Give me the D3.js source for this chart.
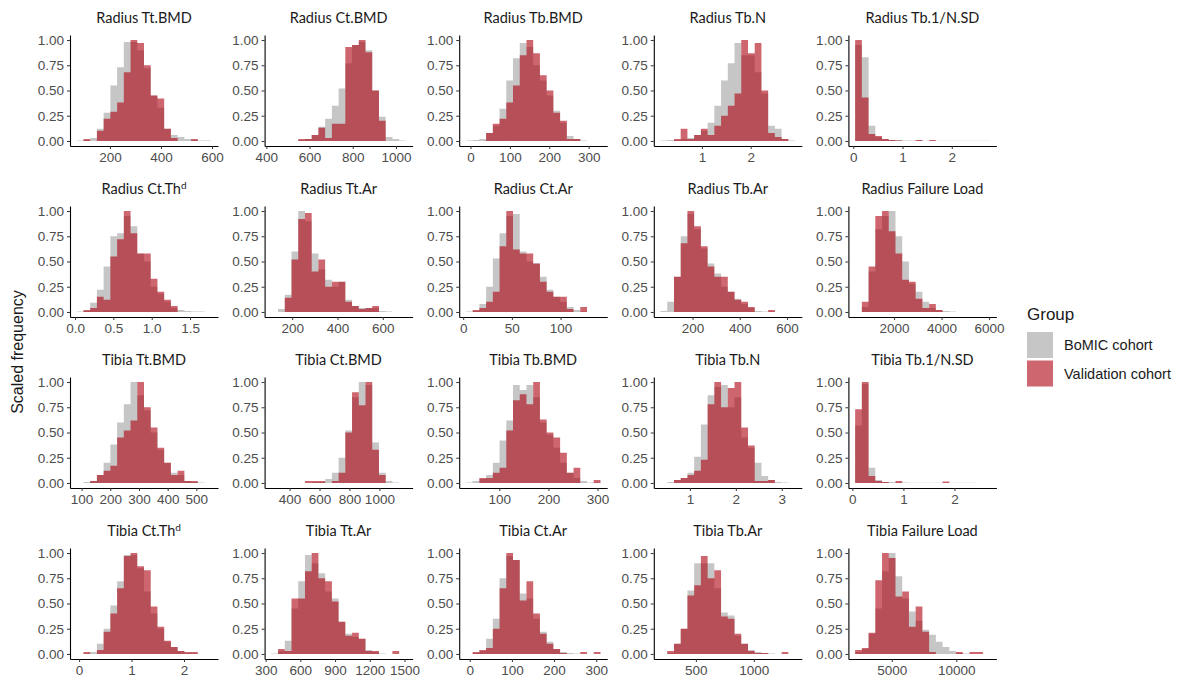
<!DOCTYPE html>
<html>
<head>
<meta charset="utf-8">
<script src="https://cdn.jsdelivr.net/npm/d3@7"></script>
<style>
  html, body { margin: 0; padding: 0; background: #fff; }
  svg { display: block; }
</style>
</head>
<body>
<svg id="chart" width="1184" height="684"></svg>
<script>
// ---------------- DATA ----------------
const panelTitles = [
  "Radius Tt.BMD", "Radius Ct.BMD", "Radius Tb.BMD", "Radius Tb.N", "Radius Tb.1/N.SD",
  "Radius Ct.Th^d", "Radius Tt.Ar", "Radius Ct.Ar", "Radius Tb.Ar", "Radius Failure Load",
  "Tibia Tt.BMD", "Tibia Ct.BMD", "Tibia Tb.BMD", "Tibia Tb.N", "Tibia Tb.1/N.SD",
  "Tibia Ct.Th^d", "Tibia Tt.Ar", "Tibia Ct.Ar", "Tibia Tb.Ar", "Tibia Failure Load"
];
const groups = ["BoMIC cohort", "Validation cohort"];

// first and last bin edge of each panel (20 equal bins)
const binStart = [70, 423, -11.6, 0.152, 0.037, 0.022, 108, 2.8, 64.5, 360,
                  83, 278, 32, 0.36, 0.054, -0.045, 349, -9, 195, 2163];
const binEnd   = [597, 1046, 330, 2.91, 2.77, 1.777, 702, 141, 634.5, 6024,
                  552, 1177, 306, 3.29, 2.69, 2.52, 1512, 310, 1356, 12582];

const xTicks = [
  [200, 400, 600], [400, 600, 800, 1000], [0, 100, 200, 300], [1, 2], [0, 1, 2],
  [0, 0.5, 1, 1.5], [200, 400, 600], [0, 50, 100], [200, 400, 600], [2000, 4000, 6000],
  [100, 200, 300, 400, 500], [400, 600, 800, 1000], [100, 200, 300], [1, 2, 3], [0, 1, 2],
  [0, 1, 2], [300, 600, 900, 1200, 1500], [0, 100, 200, 300], [500, 1000], [5000, 10000]
];
const yTicks = [0, 0.25, 0.5, 0.75, 1];

// scaled frequency per bin (BoMIC = grey, Validation = red)
const radiusTtBMD_BoMIC      = [0.005,0.01,0.03,0.12,0.28,0.55,0.73,0.98,0.98,0.9,0.72,0.45,0.33,0.12,0.06,0.04,0.02,0.01,0.005,0.005];
const radiusTtBMD_Valid      = [0,0.02,0,0.1,0.22,0.29,0.38,0.68,1.0,0.97,0.75,0.45,0.42,0.12,0.03,0,0,0.02,0,0];
const radiusCtBMD_BoMIC      = [0,0,0,0,0.01,0.02,0.06,0.14,0.22,0.35,0.52,0.77,0.95,0.98,0.9,0.5,0.24,0.04,0.02,0.005];
const radiusCtBMD_Valid      = [0,0,0,0,0.02,0.02,0.06,0.13,0.03,0.17,0.17,0.93,0.95,1.0,0.88,0.5,0.2,0,0,0];
const radiusTbBMD_BoMIC      = [0.005,0.01,0.02,0.08,0.15,0.32,0.6,0.82,0.97,0.93,0.75,0.6,0.45,0.3,0.18,0.05,0.02,0.005,0,0];
const radiusTbBMD_Valid      = [0,0,0,0.08,0.17,0.22,0.38,0.55,0.85,1.0,0.87,0.65,0.5,0.28,0.2,0.02,0.02,0,0,0];
const radiusTbN_BoMIC        = [0.005,0.01,0.01,0.02,0.03,0.06,0.1,0.18,0.35,0.6,0.77,0.97,0.85,0.85,0.68,0.47,0.15,0.12,0.02,0.005];
const radiusTbN_Valid        = [0,0,0.02,0.12,0.02,0.06,0.12,0.06,0.15,0.25,0.35,0.47,1.0,0.87,0.97,0.5,0.08,0.04,0.02,0];
const radiusTbSD_BoMIC       = [0.95,0.83,0.15,0.04,0.02,0.01,0.01,0.005,0.005,0.005,0.003,0.003,0.003,0.002,0.002,0.002,0.002,0.002,0.001,0.001];
const radiusTbSD_Valid       = [1.0,0.43,0.07,0.05,0.02,0.01,0.005,0,0,0.01,0,0.01,0,0,0,0,0,0,0,0];
const radiusCtTh_BoMIC       = [0.005,0.01,0.09,0.22,0.45,0.75,0.78,0.95,0.85,0.58,0.5,0.25,0.18,0.1,0.04,0.02,0.01,0.005,0.005,0];
const radiusCtTh_Valid       = [0,0.02,0.04,0.15,0.12,0.55,0.72,1.0,0.78,0.58,0.58,0.33,0.2,0.12,0.06,0,0,0,0,0];
const radiusTtAr_BoMIC       = [0,0.03,0.17,0.6,1.0,0.9,0.58,0.42,0.32,0.25,0.3,0.12,0.06,0.04,0.04,0.04,0.01,0.005,0,0];
const radiusTtAr_Valid       = [0,0,0.14,0.52,0.92,0.98,0.4,0.52,0.25,0.3,0.3,0.1,0.06,0.03,0.04,0.06,0,0,0,0];
const radiusCtAr_BoMIC       = [0.005,0.01,0.08,0.25,0.53,0.78,0.95,0.97,0.6,0.5,0.48,0.35,0.22,0.15,0.1,0.05,0.02,0.005,0,0];
const radiusCtAr_Valid       = [0,0.02,0.04,0.1,0.2,0.65,1.0,0.62,0.58,0.58,0.48,0.3,0.2,0.15,0.15,0.03,0,0.05,0,0];
const radiusTbAr_BoMIC       = [0.01,0.1,0.35,0.75,0.97,0.82,0.63,0.48,0.38,0.25,0.2,0.13,0.08,0.04,0.01,0.005,0.005,0,0,0];
const radiusTbAr_Valid       = [0,0,0.35,0.68,1.0,0.85,0.65,0.45,0.35,0.35,0.2,0.12,0.1,0.05,0,0,0.02,0,0,0];
const radiusFL_BoMIC         = [0,0.05,0.4,0.82,0.95,1.0,0.75,0.5,0.28,0.2,0.1,0.04,0.02,0.01,0.005,0,0,0,0,0];
const radiusFL_Valid         = [0,0.1,0.45,0.95,1.0,0.8,0.58,0.32,0.3,0.13,0.04,0.08,0.02,0,0,0,0,0,0,0];
const tibiaTtBMD_BoMIC       = [0,0.01,0.02,0.08,0.2,0.38,0.6,0.78,1.0,0.87,0.72,0.5,0.33,0.2,0.1,0.08,0.02,0.01,0.005,0];
const tibiaTtBMD_Valid       = [0,0,0.02,0.08,0.12,0.17,0.45,0.52,0.62,1.0,0.75,0.55,0.35,0.2,0.08,0.12,0.02,0.02,0,0];
const tibiaCtBMD_BoMIC       = [0,0,0,0,0,0,0.005,0.01,0.04,0.1,0.25,0.52,0.85,1.0,0.97,0.4,0.1,0.02,0.005,0];
const tibiaCtBMD_Valid       = [0,0,0,0,0,0.02,0.02,0.02,0,0.02,0.1,0.5,0.9,0.77,1.0,0.33,0.08,0,0,0];
const tibiaTbBMD_BoMIC       = [0.005,0.02,0.04,0.08,0.2,0.42,0.62,0.97,0.92,0.97,0.85,0.6,0.48,0.35,0.2,0.1,0.05,0.02,0.005,0.005];
const tibiaTbBMD_Valid       = [0,0,0.05,0.05,0.1,0.15,0.52,0.82,0.88,0.78,1.0,0.63,0.5,0.45,0.3,0.1,0.15,0,0,0.03];
const tibiaTbN_BoMIC         = [0,0.01,0.03,0.05,0.1,0.26,0.58,0.87,0.95,0.97,0.75,0.85,0.45,0.35,0.2,0.07,0.03,0.01,0.005,0];
const tibiaTbN_Valid         = [0,0,0.03,0.05,0.08,0.12,0.23,0.78,1.0,0.75,0.94,1.0,0.55,0.37,0.02,0.02,0.03,0,0,0];
const tibiaTbSD_BoMIC        = [0.57,0.98,0.15,0.03,0.01,0.01,0.005,0.005,0.003,0.003,0.002,0.002,0.002,0.002,0.002,0.001,0.001,0.001,0,0];
const tibiaTbSD_Valid        = [0.73,1.0,0.07,0.02,0.01,0,0.02,0,0,0,0,0,0,0.015,0,0,0,0,0,0];
const tibiaCtTh_BoMIC        = [0,0.005,0.02,0.1,0.25,0.48,0.72,0.98,0.98,0.85,0.62,0.4,0.25,0.12,0.07,0.03,0.01,0.005,0,0];
const tibiaCtTh_Valid        = [0,0.02,0,0.04,0.22,0.4,0.65,0.97,1.0,0.87,0.83,0.47,0.27,0.13,0.07,0.03,0.02,0.02,0,0];
const tibiaTtAr_BoMIC        = [0.005,0.03,0.13,0.45,0.72,0.98,0.9,0.8,0.62,0.55,0.32,0.2,0.17,0.15,0.04,0.02,0.005,0,0,0];
const tibiaTtAr_Valid        = [0,0.05,0.03,0.55,0.55,0.82,1.0,0.75,0.72,0.52,0.32,0.18,0.21,0.15,0.03,0.03,0,0,0.03,0];
const tibiaCtAr_BoMIC        = [0,0.01,0.03,0.15,0.35,0.75,0.97,0.93,0.6,0.55,0.35,0.22,0.12,0.05,0.02,0.01,0.005,0,0,0];
const tibiaCtAr_Valid        = [0,0.02,0.04,0.06,0.25,0.65,1.0,0.93,0.53,0.72,0.4,0.2,0.1,0.05,0.01,0,0,0.02,0,0.02];
const tibiaTbAr_BoMIC        = [0,0.01,0.1,0.25,0.63,0.9,0.9,0.9,0.65,0.41,0.38,0.18,0.1,0.04,0.02,0.01,0.005,0,0,0];
const tibiaTbAr_Valid        = [0,0.03,0.1,0.25,0.58,0.68,0.97,0.75,0.83,0.37,0.35,0.2,0.1,0.03,0.01,0.01,0,0,0.02,0];
const tibiaFL_BoMIC          = [0.02,0.05,0.2,0.45,0.82,1.0,0.77,0.55,0.42,0.33,0.24,0.19,0.12,0.07,0.03,0.01,0.005,0,0,0];
const tibiaFL_Valid          = [0.04,0.06,0.21,0.73,1.0,0.95,0.57,0.62,0.27,0.47,0.22,0.02,0,0,0,0.02,0,0.02,0.02,0];

const bomicSeries = [radiusTtBMD_BoMIC, radiusCtBMD_BoMIC, radiusTbBMD_BoMIC, radiusTbN_BoMIC, radiusTbSD_BoMIC,
  radiusCtTh_BoMIC, radiusTtAr_BoMIC, radiusCtAr_BoMIC, radiusTbAr_BoMIC, radiusFL_BoMIC,
  tibiaTtBMD_BoMIC, tibiaCtBMD_BoMIC, tibiaTbBMD_BoMIC, tibiaTbN_BoMIC, tibiaTbSD_BoMIC,
  tibiaCtTh_BoMIC, tibiaTtAr_BoMIC, tibiaCtAr_BoMIC, tibiaTbAr_BoMIC, tibiaFL_BoMIC];
const validSeries = [radiusTtBMD_Valid, radiusCtBMD_Valid, radiusTbBMD_Valid, radiusTbN_Valid, radiusTbSD_Valid,
  radiusCtTh_Valid, radiusTtAr_Valid, radiusCtAr_Valid, radiusTbAr_Valid, radiusFL_Valid,
  tibiaTtBMD_Valid, tibiaCtBMD_Valid, tibiaTbBMD_Valid, tibiaTbN_Valid, tibiaTbSD_Valid,
  tibiaCtTh_Valid, tibiaTtAr_Valid, tibiaCtAr_Valid, tibiaTbAr_Valid, tibiaFL_Valid];

// ---------------- DRAW ----------------
const svg = d3.select("#chart");
const greyFill = "#c6c6c6";
const redFill = "rgb(172,0,14)";
const redOpacity = 0.6;

const colStep = 194.6, rowStep = 171;
const panelLeft0 = 70, panelW = 148;
const panelTop0 = 35, panelH = 111;

function drawTitle(g, text, x, y) {
  const parts = text.split("^");
  const t = g.append("text")
    .attr("x", x).attr("y", y)
    .attr("text-anchor", "middle")
    .attr("font-family", "Lato, 'Open Sans', sans-serif")
    .attr("font-size", 14.5)
    .attr("fill", "#1a1a1a")
    .text(parts[0]);
  if (parts.length > 1) {
    t.append("tspan").attr("dy", -5).attr("font-size", 10).text(parts[1]);
  }
}

panelTitles.forEach((title, p) => {
  const col = p % 5, row = Math.floor(p / 5);
  const left = panelLeft0 + col * colStep;
  const top = panelTop0 + row * rowStep;
  const nb = bomicSeries[p].length;
  const b0 = binStart[p], b1 = binEnd[p];
  const span = b1 - b0;
  const bw = span / nb;

  const x = d3.scaleLinear().domain([b0 - 0.05 * span, b1 + 0.05 * span]).range([left, left + panelW]);
  const y = d3.scaleLinear().domain([-0.05, 1.05]).range([top + panelH, top]);

  const g = svg.append("g");

  // each series as one path of bin rectangles (avoids seams between adjacent bars)
  [[bomicSeries[p], greyFill, 1], [validSeries[p], redFill, redOpacity]].forEach(([vals, fill, op]) => {
    const path = d3.path();
    vals.forEach((d, i) => {
      const x0 = x(b0 + i * bw), x1 = x(b0 + (i + 1) * bw);
      if (d > 0) path.rect(x0, y(d), x1 - x0, y(0) - y(d));
    });
    g.append("path")
      .attr("d", path.toString())
      .attr("fill", fill)
      .attr("fill-opacity", op);
  });

  const decimals = xTicks[p].some(v => !Number.isInteger(v));
  const xAxis = d3.axisBottom(x).tickValues(xTicks[p]).tickSize(3).tickSizeOuter(0).tickPadding(3)
    .tickFormat(decimals ? d3.format(".1f") : d3.format("d"));
  const yAxis = d3.axisLeft(y).tickValues(yTicks).tickSize(3).tickSizeOuter(0).tickPadding(3)
    .tickFormat(d3.format(".2f"));

  const gx = g.append("g").attr("transform", `translate(0,${top + panelH})`).call(xAxis);
  const gy = g.append("g").attr("transform", `translate(${left},0)`).call(yAxis);
  [gx, gy].forEach(a => {
    a.select(".domain").attr("stroke", "#000").attr("stroke-width", 1.1);
    a.selectAll(".tick line").attr("stroke", "#333").attr("stroke-width", 1);
    a.selectAll(".tick text").attr("fill", "#4d4d4d")
      .attr("font-family", "'Liberation Sans', Arial, sans-serif").attr("font-size", 13.5);
  });

  drawTitle(g, title, left + panelW / 2, top - 12);
});

// y axis title
svg.append("text")
  .attr("transform", "translate(23,352) rotate(-90)")
  .attr("text-anchor", "middle")
  .attr("font-family", "'Liberation Sans', Arial, sans-serif")
  .attr("font-size", 16)
  .attr("fill", "#1a1a1a")
  .text("Scaled frequency");

// legend
const legend = svg.append("g");
legend.append("text")
  .attr("x", 1027).attr("y", 320)
  .attr("font-family", "'Liberation Sans', Arial, sans-serif")
  .attr("font-size", 17).attr("fill", "#1a1a1a")
  .text("Group");
const keyFills = [[greyFill, 1], [redFill, redOpacity]];
groups.forEach((grp, i) => {
  const ky = 332 + i * 28.5;
  legend.append("rect").attr("x", 1027).attr("y", ky).attr("width", 26).attr("height", 26)
    .attr("fill", keyFills[i][0]).attr("fill-opacity", keyFills[i][1]);
  legend.append("text")
    .attr("x", 1064).attr("y", ky + 13).attr("dy", "0.35em")
    .attr("font-family", "'Liberation Sans', Arial, sans-serif")
    .attr("font-size", 14.5).attr("fill", "#1a1a1a")
    .text(grp);
});
</script>
</body>
</html>
